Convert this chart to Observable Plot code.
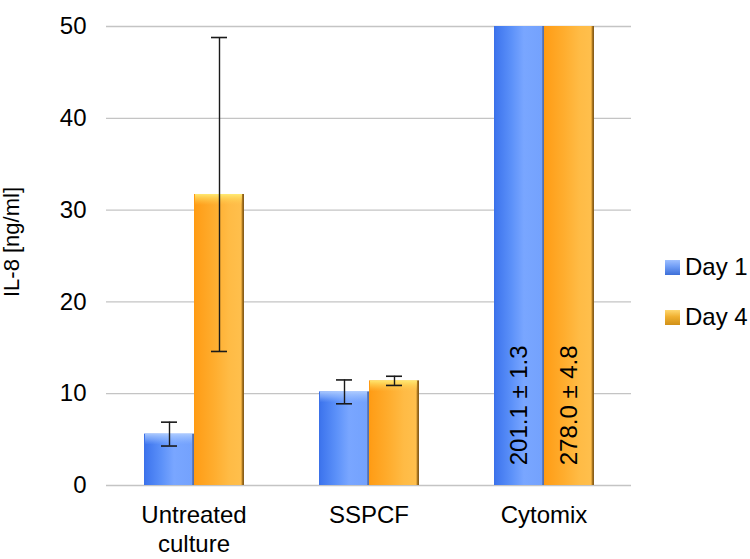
<!DOCTYPE html>
<html>
<head>
<meta charset="utf-8">
<script src="https://cdn.jsdelivr.net/npm/d3@7"></script>
<script src="https://cdn.jsdelivr.net/npm/@observablehq/plot@0.6"></script>
<style>
  body { margin: 0; background: #fff; font-family: "Liberation Sans", Arial, sans-serif; }
  #wrap { position: relative; width: 750px; height: 559px; }
  .legend { position: absolute; left: 665px; top: 242px; font-size: 24px; color: #000; }
  .item { display: flex; align-items: center; height: 50px; }
  .sw { width: 15px; height: 15px; margin-right: 5px; box-sizing: border-box; }
</style>
</head>
<body>
<div id="wrap"></div>
<script>
const categories = ["Untreated\nculture", "SSPCF", "Cytomix"];
const days = ["Day 1", "Day 4"];
const day1Values = [5.6, 10.2, 201.1];
const day1Errors = [1.3, 1.3, 1.3];
const day4Values = [31.7, 11.4, 278.0];
const day4Errors = [17.1, 0.5, 4.8];
const yTicks = [0, 10, 20, 30, 40, 50];
const yLabel = "IL-8 [ng/ml]";

const rows = [];
categories.forEach((c, i) => {
  rows.push({cat: c, day: days[0], v: day1Values[i], e: day1Errors[i]});
  rows.push({cat: c, day: days[1], v: day4Values[i], e: day4Errors[i]});
});
const overflow = rows.filter(d => d.v > 50).map(d => ({...d, label: `${d.v.toFixed(1)} ± ${d.e.toFixed(1)}`}));

const svg = Plot.plot({
  width: 750,
  height: 559,
  marginLeft: 106,
  marginRight: 119,
  marginTop: 26,
  marginBottom: 74,
  style: {fontFamily: "Liberation Sans, Arial, sans-serif", fontSize: "24px", color: "#000", background: "#fff"},
  fx: {domain: categories, padding: 0, label: null},
  x: {domain: days, paddingInner: 0, paddingOuter: 0.75, axis: null},
  y: {domain: [0, 50], label: null},
  marks: [
    Plot.ruleY(yTicks, {stroke: "#c4c4c4", strokeWidth: 1.3}),
    Plot.barY(rows, {fx: "cat", x: "day", y: "v", fill: d => d.day === "Day 1" ? "url(#gBlue)" : "url(#gOrange)", clip: true}),
    Plot.barY(rows, {fx: "cat", x: "day", y1: "v", y2: "v", insetBottom: -11, insetLeft: 1, insetRight: 2, fill: d => d.day === "Day 1" ? "url(#bBlue)" : "url(#bOrange)", clip: true}),
    Plot.ruleX(rows, {fx: "cat", x: "day", y1: d => d.v - d.e, y2: d => d.v + d.e, stroke: "#1a1a1a", strokeWidth: 1.4, clip: true}),
    Plot.tickY(rows, {fx: "cat", x: "day", y: d => d.v + d.e, insetLeft: 17, insetRight: 17, stroke: "#1a1a1a", strokeWidth: 1.6, clip: true}),
    Plot.tickY(rows, {fx: "cat", x: "day", y: d => d.v - d.e, insetLeft: 17, insetRight: 17, stroke: "#1a1a1a", strokeWidth: 1.6, clip: true}),
    Plot.text(overflow, {fx: "cat", x: "day", y: 2.2, text: "label", rotate: -90, textAnchor: "start", fontSize: 24, fill: "#000"}),
    Plot.axisY(yTicks, {tickSize: 0, tickPadding: 20, fontSize: 24, label: null}),
    Plot.axisFx({anchor: "bottom", tickSize: 0, tickPadding: 17, fontSize: 24, lineHeight: 1.2, label: null}),
    Plot.text([yLabel], {fx: [categories[0]], frameAnchor: "left", rotate: -90, lineAnchor: "top", textAnchor: "middle", dx: -103, dy: -14, fontSize: 22, fill: "#000"})
  ]
});

const defs = d3.select(svg).insert("defs", ":first-child");
function grad(id, stops, vertical) {
  const g = defs.append("linearGradient").attr("id", id).attr("x1", 0).attr("y1", 0)
    .attr("x2", vertical ? 0 : 1).attr("y2", vertical ? 1 : 0);
  stops.forEach(([o, c, a]) => g.append("stop").attr("offset", o).attr("stop-color", c).attr("stop-opacity", a ?? 1));
}
grad("gBlue", [[0, "#3a6fe6"], [0.04, "#3f76ee"], [0.35, "#5c91f9"], [0.6, "#79a6ff"], [0.95, "#74a2fd"], [0.97, "#5d7cc0"], [1, "#4a6aa8"]]);
grad("gOrange", [[0, "#ff9a10"], [0.05, "#ff9e18"], [0.4, "#ffad2e"], [0.7, "#ffbb45"], [0.94, "#ffbf4c"], [0.97, "#a8741f"], [1, "#7a5418"]]);
grad("bBlue", [[0, "#b4d0ff", 0.9], [0.5, "#9cc0ff", 0.55], [1, "#8ab4ff", 0]], true);
grad("bOrange", [[0, "#fff07a", 0.9], [0.5, "#ffd85a", 0.55], [1, "#ffc850", 0]], true);

const wrap = document.getElementById("wrap");
wrap.appendChild(svg);
const legend = document.createElement("div");
legend.className = "legend";
const swatchBg = {
  "Day 1": "linear-gradient(to bottom, #9fc0ff 0%, #6f9cf5 45%, #3d6fd8 100%)",
  "Day 4": "linear-gradient(to bottom, #ffd870 0%, #f0b030 45%, #d09018 100%)"
};
days.forEach(d => {
  const it = document.createElement("div");
  it.className = "item";
  const sw = document.createElement("div");
  sw.className = "sw";
  sw.style.background = swatchBg[d];
  const t = document.createElement("span");
  t.textContent = d;
  it.appendChild(sw);
  it.appendChild(t);
  legend.appendChild(it);
});
wrap.appendChild(legend);
</script>
</body>
</html>
